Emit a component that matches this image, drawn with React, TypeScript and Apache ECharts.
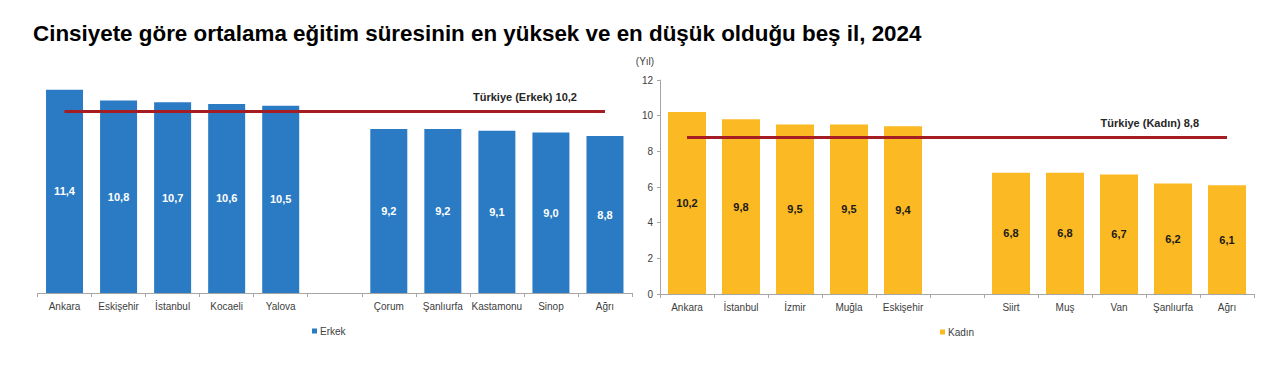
import React, { useEffect, useRef } from "react";
import * as echarts from "echarts";

const TITLE = "Cinsiyete göre ortalama eğitim süresinin en yüksek ve en düşük olduğu beş il, 2024";
const maleCities = ["Ankara", "Eskişehir", "İstanbul", "Kocaeli", "Yalova", "", "Çorum", "Şanlıurfa", "Kastamonu", "Sinop", "Ağrı"];
const maleValues = [11.4, 10.8, 10.7, 10.6, 10.5, null, 9.2, 9.2, 9.1, 9.0, 8.8];
const femaleCities = ["Ankara", "İstanbul", "İzmir", "Muğla", "Eskişehir", "", "Siirt", "Muş", "Van", "Şanlıurfa", "Ağrı"];
const femaleValues = [10.2, 9.8, 9.5, 9.5, 9.4, null, 6.8, 6.8, 6.7, 6.2, 6.1];
const turkeyMale = 10.2;
const turkeyFemale = 8.8;
const yTicks = [0, 2, 4, 6, 8, 10, 12];

const FONT = "'Liberation Sans', Arial, sans-serif";
const BLUE = "#2a7bc4";
const YELLOW = "#fbb923";
const RED = "#a51c22";
const AXIS = "#a6a6a6";

const fmt = (v: number) => v.toFixed(1).replace(".", ",");

export default function App() {
  const ref = useRef<HTMLDivElement>(null);
  useEffect(() => {
    if (!ref.current) return;
    const chart = echarts.init(ref.current, null, { renderer: "svg" });
    const xAxisCommon = {
      type: "category" as const,
      axisLine: { lineStyle: { color: AXIS, width: 1 } },
      axisTick: { show: true, length: 4, lineStyle: { color: AXIS } },
      axisLabel: { interval: 0, fontSize: 10, color: "#404040", fontFamily: FONT, margin: 8 },
    };
    const refLine = (val: number, first: string, last: string, name: string) => ({
      symbol: "none",
      silent: true,
      lineStyle: { color: RED, width: 3, type: "solid" },
      label: {
        show: true,
        position: "insideEndTop",
        distance: [28, 9],
        formatter: `Türkiye (${name}) ${fmt(val)}`,
        fontSize: 11,
        fontWeight: "bold",
        color: "#262626",
        fontFamily: FONT,
      },
      data: [[{ coord: [first, val] }, { coord: [last, val] }]],
    });
    const legendCommon = {
      itemWidth: 5,
      itemHeight: 5,
      itemGap: 3,
      icon: "rect",
      textStyle: { fontSize: 10, color: "#404040", fontFamily: FONT, padding: [0, 0, 0, -2] },
    };
    chart.setOption({
      animation: false,
      title: {
        text: TITLE,
        left: 28,
        top: 17,
        textStyle: { fontSize: 22.4, fontWeight: "bold", color: "#000", fontFamily: FONT },
      },
      graphic: [
        {
          type: "text",
          x: 645,
          y: 61,
          style: { text: "(Yıl)", font: `10px ${FONT}`, fill: "#404040", align: "center", verticalAlign: "middle" },
        },
      ],
      legend: [
        { ...legendCommon, data: ["Erkek"], left: 307, top: 321 },
        { ...legendCommon, data: ["Kadın"], left: 935, top: 322 },
      ],
      grid: [
        { left: 37.5, top: 79, width: 594.5, height: 214 },
        { left: 660, top: 80, width: 594, height: 214 },
      ],
      xAxis: [
        { ...xAxisCommon, gridIndex: 0, data: maleCities },
        { ...xAxisCommon, gridIndex: 1, data: femaleCities },
      ],
      yAxis: [
        { type: "value", gridIndex: 0, min: yTicks[0], max: yTicks[yTicks.length - 1], interval: 2, show: false, splitLine: { show: false } },
        {
          type: "value",
          gridIndex: 1,
          min: yTicks[0],
          max: yTicks[yTicks.length - 1],
          interval: 2,
          axisLine: { show: true, lineStyle: { color: AXIS } },
          axisTick: { show: true, length: 3, lineStyle: { color: AXIS } },
          axisLabel: { fontSize: 10, color: "#404040", fontFamily: FONT, margin: 7 },
          splitLine: { show: false },
        },
      ],
      series: [
        {
          name: "Erkek",
          type: "bar",
          xAxisIndex: 0,
          yAxisIndex: 0,
          data: maleValues,
          barWidth: 37,
          itemStyle: { color: BLUE },
          label: {
            show: true,
            position: "inside",
            formatter: (p: any) => fmt(p.value),
            color: "#fff",
            fontWeight: "bold",
            fontSize: 11,
            fontFamily: FONT,
          },
          markLine: refLine(turkeyMale, maleCities[0], maleCities[maleCities.length - 1], "Erkek"),
        },
        {
          name: "Kadın",
          type: "bar",
          xAxisIndex: 1,
          yAxisIndex: 1,
          data: femaleValues,
          barWidth: 38,
          itemStyle: { color: YELLOW },
          label: {
            show: true,
            position: "inside",
            formatter: (p: any) => fmt(p.value),
            color: "#1a1a1a",
            fontWeight: "bold",
            fontSize: 11,
            fontFamily: FONT,
          },
          markLine: refLine(turkeyFemale, femaleCities[0], femaleCities[femaleCities.length - 1], "Kadın"),
        },
      ],
    });
    return () => chart.dispose();
  }, []);
  return <div ref={ref} style={{ position: "fixed", left: 0, top: 0, width: 1280, height: 371, background: "#fff" }} />;
}
